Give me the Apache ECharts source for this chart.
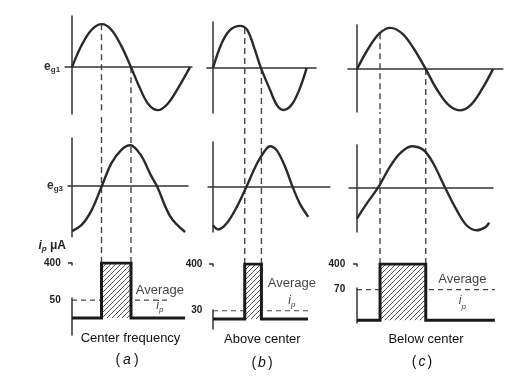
<!DOCTYPE html>
<html><head><meta charset="utf-8">
<script src="https://cdn.jsdelivr.net/npm/echarts@6/dist/echarts.min.js"></script>
<style>html,body{margin:0;padding:0;background:#fff}#c{width:510px;height:378px}</style>
</head><body><div id="c"></div>
<script>
// ---------- data (phase angle in degrees of e_g1, grid voltages in units of peak, current in µA) ----------
const topA = [[0,0],[30,0.52],[60,0.87],[91,1],[120,0.87],[150,0.5],[180,0],[205,-0.45],[232,-0.85],[262,-1],[292,-0.85],[325,-0.47],[360,0]];
const midA = [[0,-1.05],[30,-0.9],[60,-0.56],[91,0],[120,0.53],[150,0.84],[178,0.95],[210,0.72],[240,0.26],[259,0],[300,-0.71],[345,-1.07]];
const topB = [[0,0],[33,0.57],[65,0.88],[104,0.98],[132,0.88],[161,0.42],[184,0],[219,-0.51],[245,-0.86],[270,-0.98],[302,-0.86],[334,-0.47],[360,0]];
const midB = [[0,-0.91],[20,-1.01],[52,-0.87],[91,-0.48],[128,0],[169,0.56],[200,0.87],[219,0.97],[245,0.87],[277,0.48],[306,0],[334,-0.4],[366,-0.71]];
const topC = [[0,0],[30,0.5],[60,0.87],[88,1],[120,0.86],[150,0.5],[182,0],[210,-0.47],[240,-0.85],[272,-1],[300,-0.88],[330,-0.5],[360,0]];
const midC = [[0,-0.74],[26,-0.38],[56,0],[87,0.49],[114,0.81],[145,0.98],[176,0.89],[202,0.57],[233,0],[264,-0.54],[290,-0.9],[317,-1.02],[339,-0.95],[350,-0.84]];

const condA = [90, 180];   // conduction interval (deg)
const condB = [122, 186];
const condC = [61, 182];
const dashFromA = [1.0, 0];  // e_g1 value where dashed guides start
const dashFromB = [0.93, 0];
const dashFromC = [0.87, 0];

const peakCurrent = 400;
const avgA = 50, avgB = 30, avgC = 70;
const avgEndA = 299, avgEndB = 365, avgEndC = 365;
const baseEndA = 345, baseEndB = 365, baseEndC = 365;
const avgLabelAtA = 268, avgLabelAtB = 303, avgLabelAtC = 279;
const tickLabelsA = [50, 400], tickLabelsB = [30, 400], tickLabelsC = [70, 400];
const captions = ['Center frequency', 'Above center', 'Below center'];
const letters = ['a', 'b', 'c'];

// ---------- layout ----------
const L = [
 {x0:72, k:118/360,
  top:{xr:[-21,366], y:16, h:98, yr:[-1.09,1.19]},
  mid:{xr:[-12,354], y:138, h:98.7, yr:[-1.18,1.12]},
  bot:{xr:[-10,360], y:263, h:72, yr:[-47,400], brk:{start:55,end:395,gap:92.8}},
  ov:{y:114, h:149},
  lab:{offset:[0,-2], lh:16},
  cap:{x:130.5, y:338, px:127, py:360, pad:3}},
 {x0:213, k:93.7/360,
  top:{xr:[-23,396], y:22, h:91, yr:[-1.05,1.07]},
  mid:{xr:[-19,449], y:142, h:90, yr:[-1.07,1.07]},
  bot:{xr:[-10,370], y:264, h:65, yr:[-36,400], brk:{start:35,end:395,gap:158.8}},
  ov:{y:113, h:151},
  lab:{offset:[0,-19], lh:17},
  cap:{x:262.3, y:339, px:262, py:363, pad:2}},
 {x0:357, k:136/360,
  top:{xr:[-24,386], y:25, h:87, yr:[-1.04,1.07]},
  mid:{xr:[-21,360], y:145, h:87, yr:[-1.06,1.01]},
  bot:{xr:[-10,370], y:264, h:59, yr:[-6,400], brk:{start:75,end:395,gap:48.6}},
  ov:{y:112, h:152},
  lab:{offset:[0,0], lh:21},
  cap:{x:426, y:339, px:422, py:361.7, pad:2}}
];

const P = [
 {top:topA, mid:midA, cond:condA, dashFrom:dashFromA, avg:avgA, avgEnd:avgEndA, baseEnd:baseEndA, labelAt:avgLabelAtA, ticks:tickLabelsA},
 {top:topB, mid:midB, cond:condB, dashFrom:dashFromB, avg:avgB, avgEnd:avgEndB, baseEnd:baseEndB, labelAt:avgLabelAtB, ticks:tickLabelsB},
 {top:topC, mid:midC, cond:condC, dashFrom:dashFromC, avg:avgC, avgEnd:avgEndC, baseEnd:baseEndC, labelAt:avgLabelAtC, ticks:tickLabelsC}
];

const FONT = '"Liberation Sans", Arial, Helvetica, sans-serif';
const INK = '#2a2a2a';
const AX = {color:'#333', width:1.5};
const DASH = {type:[6,4], width:1.4, color:'#444'};

function hatch(){
  const s = 5, cv = document.createElement('canvas');
  cv.width = s; cv.height = s;
  const g = cv.getContext('2d');
  g.fillStyle = '#fff'; g.fillRect(0,0,s,s);
  g.strokeStyle = '#555'; g.lineWidth = 1;
  g.beginPath();
  g.moveTo(0,s); g.lineTo(s,0);
  g.moveTo(-1,1); g.lineTo(1,-1);
  g.moveTo(s-1,s+1); g.lineTo(s+1,s-1);
  g.stroke();
  return cv;
}
const HATCH = hatch();

const grids = [], xAxes = [], yAxes = [], series = [], graphics = [];
function gridOf(l, xr, y, h){
  return {left: l.x0 + xr[0]*l.k, width: (xr[1]-xr[0])*l.k, top: y, height: h,
          containLabel:false, outerBoundsMode:'none'};
}
const subRich = {
  e:{fontSize:12, fontWeight:'bold', color:'#333', fontFamily:FONT, lineHeight:14},
  g:{fontSize:8, fontWeight:'bold', color:'#333', fontFamily:FONT, verticalAlign:'bottom', lineHeight:6}
};

L.forEach((l, i) => {
  const p = P[i], gi = i*4;
  // grids: top, middle, bottom, overlay
  grids.push(gridOf(l, l.top.xr, l.top.y, l.top.h));
  grids.push(gridOf(l, l.mid.xr, l.mid.y, l.mid.h));
  grids.push(gridOf(l, l.bot.xr, l.bot.y, l.bot.h));
  grids.push(gridOf(l, l.bot.xr, l.ov.y, l.ov.h));

  const plainX = (g, xr, extra) => Object.assign({gridIndex:g, type:'value', min:xr[0], max:xr[1],
      axisLine:{show:true, onZero:true, lineStyle:AX}, axisTick:{show:false}, axisLabel:{show:false}, splitLine:{show:false}}, extra||{});
  const plainY = (g, yr) => ({gridIndex:g, type:'value', min:yr[0], max:yr[1],
      axisLine:{show:true, onZero:true, lineStyle:AX}, axisTick:{show:false}, axisLabel:{show:false}, splitLine:{show:false}});

  xAxes.push(plainX(gi, l.top.xr, i===0 ? {name:'{e|e}{g|g1}', nameLocation:'start', nameGap:5, nameTextStyle:{rich:subRich}} : null));
  yAxes.push(plainY(gi, l.top.yr));
  xAxes.push(plainX(gi+1, l.mid.xr, i===0 ? {name:'{e|e}{g|g3}', nameLocation:'start', nameGap:5, nameTextStyle:{rich:subRich}} : null));
  yAxes.push(plainY(gi+1, l.mid.yr));
  // bottom
  xAxes.push({gridIndex:gi+2, type:'value', min:l.bot.xr[0], max:l.bot.xr[1],
      axisLine:{show:false}, axisTick:{show:false}, axisLabel:{show:false}, splitLine:{show:false}});
  const by = {gridIndex:gi+2, type:'value', min:l.bot.yr[0], max:l.bot.yr[1],
      breaks:[l.bot.brk], breakArea:{show:false, itemStyle:{opacity:0, borderWidth:0}},
      axisLine:{show:true, onZero:true, lineStyle:AX},
      axisTick:{show:true, customValues:[peakCurrent], length:4, lineStyle:AX},
      axisLabel:{show:true, customValues:p.ticks, margin:8, fontSize:10, fontWeight:'bold', color:'#222', fontFamily:FONT},
      splitLine:{show:false}};
  if (i===0) {
    by.name = '{i|i}{s|p}{t| μA}';
    by.nameLocation = 'end';
    by.nameGap = 10;
    by.nameTextStyle = {align:'right', padding:[0,6,0,0], rich:{
      i:{fontSize:12, fontStyle:'italic', fontWeight:'bold', color:'#222', fontFamily:FONT, lineHeight:14},
      s:{fontSize:8, fontStyle:'italic', fontWeight:'bold', color:'#222', fontFamily:FONT, verticalAlign:'bottom', lineHeight:6},
      t:{fontSize:12, fontWeight:'bold', color:'#222', fontFamily:FONT, lineHeight:14}}};
  }
  yAxes.push(by);
  // overlay for guides crossing panels
  xAxes.push({gridIndex:gi+3, type:'value', min:l.bot.xr[0], max:l.bot.xr[1], show:false});
  yAxes.push({gridIndex:gi+3, type:'value', min:0, max:1, show:false});

  // waves
  series.push({type:'line', xAxisIndex:gi, yAxisIndex:gi, data:p.top, smooth:0.35, symbol:'none', silent:true,
    lineStyle:{width:2.4, color:INK}, z:3});
  series.push({type:'line', xAxisIndex:gi+1, yAxisIndex:gi+1, data:p.mid, smooth:0.35, symbol:'none', silent:true,
    lineStyle:{width:2.4, color:INK}, z:3});
  // dashed guides
  p.cond.forEach((c, j) => {
    series.push({type:'line', xAxisIndex:gi, yAxisIndex:gi, data:[[c, p.dashFrom[j]],[c, l.top.yr[0]]],
      symbol:'none', silent:true, lineStyle:DASH, z:2});
    series.push({type:'line', xAxisIndex:gi+3, yAxisIndex:gi+3, data:[[c,0],[c,1]],
      symbol:'none', silent:true, lineStyle:DASH, z:2});
  });
  // plate current
  series.push({type:'line', xAxisIndex:gi+2, yAxisIndex:gi+2, data:[[0,p.avg],[p.avgEnd,p.avg]],
    symbol:'none', silent:true, lineStyle:{type:[5,4], width:1.2, color:'#444'}, z:1});
  series.push({type:'line', xAxisIndex:gi+2, yAxisIndex:gi+2,
    data:[[0,0],[p.cond[0],0],[p.cond[0],peakCurrent],[p.cond[1],peakCurrent],[p.cond[1],0],[p.baseEnd,0]],
    symbol:'none', silent:true, lineStyle:{width:3, color:'#1a1a1a', join:'miter'},
    areaStyle:{color:{image:HATCH, repeat:'repeat'}, opacity:1}, z:3});
  series.push({type:'scatter', xAxisIndex:gi+2, yAxisIndex:gi+2, data:[[p.labelAt, p.avg]], symbolSize:1,
    silent:true, itemStyle:{color:'rgba(0,0,0,0)'}, z:5,
    label:{show:true, position:'inside', offset:l.lab.offset, formatter:'{a|Average}\n{i|i}{s|p}',
      rich:{
        a:{fontSize:13, color:'#111', fontFamily:FONT, lineHeight:l.lab.lh},
        i:{fontSize:12, fontStyle:'italic', color:'#111', fontFamily:FONT, lineHeight:l.lab.lh},
        s:{fontSize:8, fontStyle:'italic', color:'#111', fontFamily:FONT, lineHeight:l.lab.lh-4, verticalAlign:'bottom'}
      }}});

  // captions
  graphics.push({type:'text', x:l.cap.x, y:l.cap.y, silent:true,
    style:{text:captions[i], fontSize:13, fontFamily:FONT, fill:'#111', align:'center', verticalAlign:'middle'}});
  graphics.push({type:'text', x:l.cap.px, y:l.cap.py, silent:true,
    style:{text:'{p|(}{i|' + letters[i] + '}{p|)}', align:'center', verticalAlign:'middle',
      rich:{p:{fontSize:14, fontFamily:FONT, fill:'#111'},
            i:{fontSize:14, fontStyle:'italic', fontFamily:FONT, fill:'#111', padding:[0,l.cap.pad,0,l.cap.pad]}}}});
});

const chart = echarts.init(document.getElementById('c'), null, {renderer:'canvas'});
chart.setOption({
  backgroundColor:'#fff',
  animation:false,
  grid:grids, xAxis:xAxes, yAxis:yAxes, series:series, graphic:graphics
});
</script></body></html>
